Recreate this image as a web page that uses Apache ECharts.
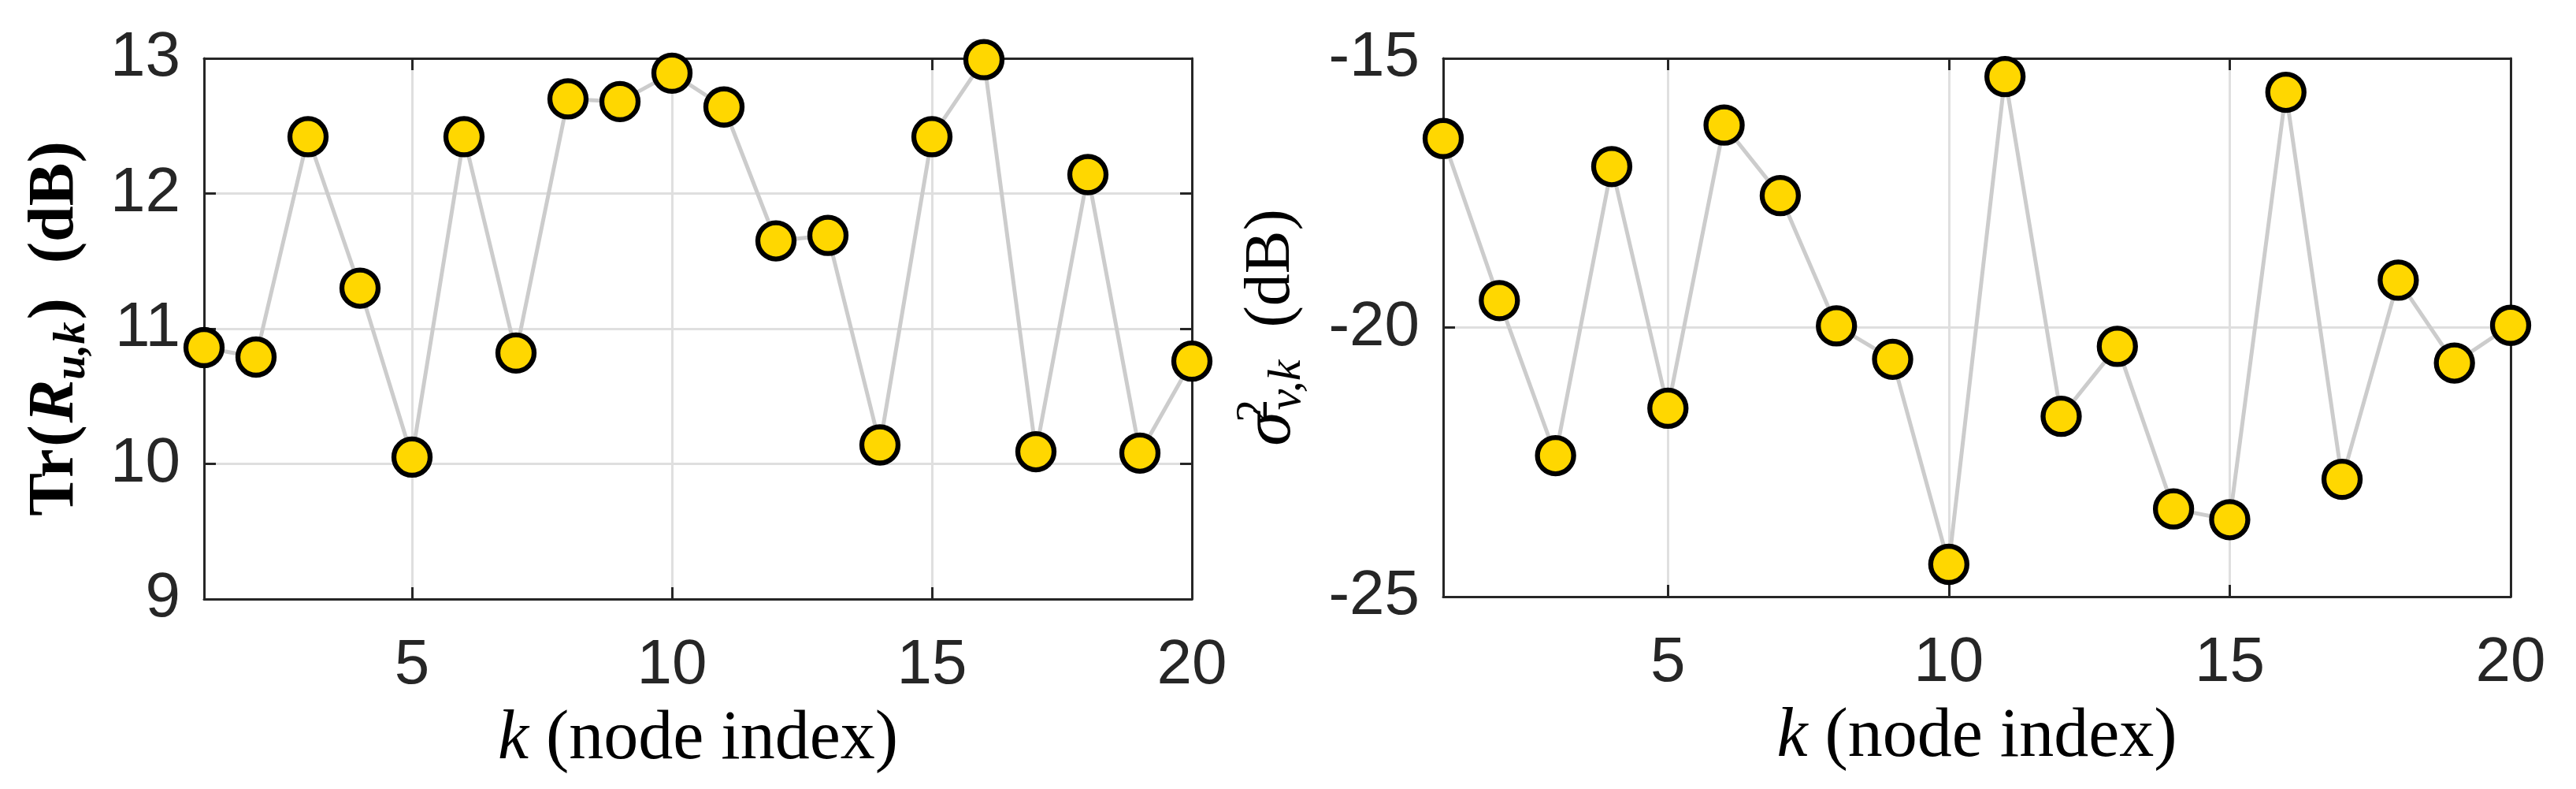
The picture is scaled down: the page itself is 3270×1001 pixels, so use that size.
<!DOCTYPE html>
<html>
<head>
<meta charset="utf-8">
<script src="https://cdn.jsdelivr.net/npm/echarts@6/dist/echarts.min.js"></script>
<style>
    html, body { margin: 0; padding: 0; background: #fff; }
    #chart { width: 3270px; height: 1001px; }
</style>
</head>
<body>
<div id="chart"></div>
<script type="text/javascript">
    // node index k
    var kIndex = ['1','2','3','4','5','6','7','8','9','10','11','12','13','14','15','16','17','18','19','20'];
    // Tr(R_u,k) in dB
    var traceRu = [10.86, 10.79, 12.42, 11.30, 10.05, 12.42, 10.82, 12.70, 12.68, 12.89,
                   12.64, 11.65, 11.69, 10.14, 12.42, 12.99, 10.09, 12.14, 10.08, 10.76];
    // sigma^2_v,k in dB
    var noiseVar = [-16.49, -19.50, -22.38, -17.01, -21.50, -16.24, -17.55, -19.97, -20.59, -24.40,
                    -15.34, -21.65, -20.35, -23.37, -23.57, -15.63, -22.82, -19.12, -20.66, -19.96];
    // shown x ticks
    var xTicks = ['5', '10', '15', '20'];
    // [min, max, interval]
    var leftRange = [9, 13, 1];
    var rightRange = [-25, -15, 5];

    var axisColor = '#262626';
    var gridColor = '#dfdfdf';
    var serif = 'Liberation Serif';

    function showTick(idx, val) { return xTicks.indexOf(val) >= 0; }
    function showGrid(idx, val) { return xTicks.indexOf(val) >= 0 && val !== kIndex[kIndex.length - 1]; }

    var tickFont = { fontFamily: 'Liberation Sans', fontSize: 80, color: axisColor };

    function xMain(gi) {
        return {
            type: 'category', gridIndex: gi, data: kIndex, boundaryGap: false, position: 'bottom',
            axisLine: { show: true, lineStyle: { color: axisColor, width: 3 } },
            axisTick: { show: true, inside: true, length: 15, interval: showTick, lineStyle: { color: axisColor, width: 3 } },
            axisLabel: Object.assign({ interval: showTick, margin: 45 }, tickFont),
            splitLine: { show: true, interval: showGrid, lineStyle: { color: gridColor, width: 3 } },
            name: '{i|k} (node index)', nameLocation: 'middle', nameGap: 135,
            nameTextStyle: {
                fontFamily: serif, fontSize: 88, color: '#000',
                rich: { i: { fontFamily: serif, fontStyle: 'italic', fontSize: 88, color: '#000' } }
            }
        };
    }
    function xMirror(gi) {
        return {
            type: 'category', gridIndex: gi, data: kIndex, boundaryGap: false, position: 'top',
            axisLine: { show: true, lineStyle: { color: axisColor, width: 3 } },
            axisTick: { show: true, inside: true, length: 15, interval: showTick, lineStyle: { color: axisColor, width: 3 } },
            axisLabel: { show: false }, splitLine: { show: false }
        };
    }
    function yMain(gi, r, name, gap, rich) {
        return {
            type: 'value', gridIndex: gi, min: r[0], max: r[1], interval: r[2], position: 'left',
            axisLine: { show: true, lineStyle: { color: axisColor, width: 3 } },
            axisTick: { show: true, inside: true, length: 15, lineStyle: { color: axisColor, width: 3 } },
            axisLabel: Object.assign({ margin: 30 }, tickFont),
            splitLine: { show: true, showMinLine: false, showMaxLine: false, lineStyle: { color: gridColor, width: 3 } },
            name: name, nameLocation: 'middle', nameGap: gap, nameRotate: 90,
            nameTextStyle: { fontFamily: serif, fontSize: 82, color: '#000', lineHeight: 100, rich: rich }
        };
    }
    function yMirror(gi, r) {
        return {
            type: 'value', gridIndex: gi, min: r[0], max: r[1], interval: r[2], position: 'right',
            axisLine: { show: true, lineStyle: { color: axisColor, width: 3 } },
            axisTick: { show: true, inside: true, length: 15, lineStyle: { color: axisColor, width: 3 } },
            axisLabel: { show: false }, splitLine: { show: false }
        };
    }

    // Tr(R_{u,k}) (dB), bold
    var leftRich = {
        b: { fontFamily: serif, fontWeight: 'bold', fontSize: 82, lineHeight: 100, color: '#000' },
        p: { fontFamily: serif, fontWeight: 'bold', fontSize: 82, lineHeight: 100, color: '#000', padding: [0, 3, 0, 3] },
        d: { fontFamily: serif, fontWeight: 'bold', fontSize: 82, lineHeight: 100, color: '#000' },
        R: { fontFamily: serif, fontWeight: 'bold', fontStyle: 'italic', fontSize: 82, lineHeight: 100, color: '#000' },
        s: { fontFamily: serif, fontWeight: 'bold', fontStyle: 'italic', fontSize: 56, lineHeight: 100, verticalAlign: 'bottom', color: '#000' }
    };
    // sigma^2_{v,k} (dB)
    var rightRich = {
        g: { fontFamily: serif, fontStyle: 'italic', fontSize: 88, lineHeight: 100, color: '#000' },
        sup: { fontFamily: serif, fontSize: 58, lineHeight: 100, verticalAlign: 'top', width: 2, align: 'left', color: '#000' },
        s: { fontFamily: serif, fontStyle: 'italic', fontSize: 60, lineHeight: 100, verticalAlign: 'bottom', color: '#000' },
        d: { fontFamily: serif, fontSize: 82, lineHeight: 100, color: '#000' }
    };

    function lineSeries(xi, yi, data) {
        return {
            type: 'line', xAxisIndex: xi, yAxisIndex: yi, data: data, clip: false,
            symbol: 'circle', symbolSize: 46, showSymbol: true, showAllSymbol: true,
            lineStyle: { color: '#cccccc', width: 5 },
            itemStyle: { color: '#FFD700', borderColor: '#000', borderWidth: 6.3 }
        };
    }

    var myChart = echarts.init(document.getElementById('chart'));
    var option = {
        animation: false,
        backgroundColor: '#fff',
        grid: [
            { left: 259, top: 74, width: 1254, height: 686 },
            { left: 1832, top: 74, width: 1355, height: 683 }
        ],
        xAxis: [xMain(0), xMirror(0), xMain(1), xMirror(1)],
        yAxis: [
            yMain(0, leftRange, '{b|Tr}{p|(}{R|R}{s|u,k}{p|)}  {d|(dB)}', 138, leftRich),
            yMirror(0, leftRange),
            yMain(1, rightRange, '{g|σ}{sup|2}{s|v,k}  {d|(dB)}', 168, rightRich),
            yMirror(1, rightRange)
        ],
        series: [
            lineSeries(0, 0, traceRu),
            lineSeries(2, 2, noiseVar)
        ]
    };
    myChart.setOption(option);
</script>
</body>
</html>
